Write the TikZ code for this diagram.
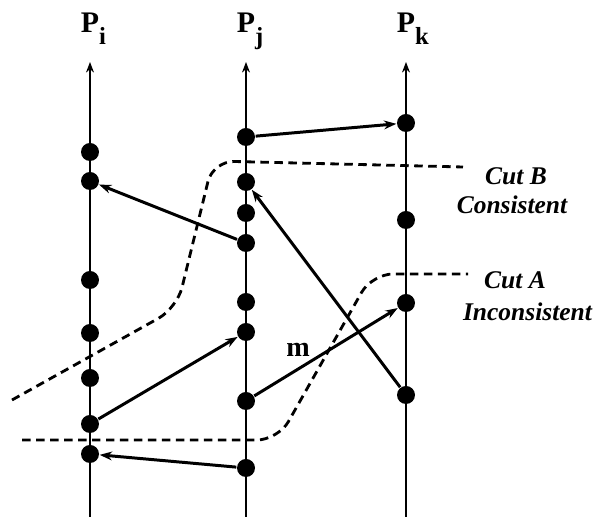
\documentclass[tikz,border=0pt]{standalone}
\usepackage{fontspec}
\setmainfont{Liberation Serif}
\usetikzlibrary{arrows.meta, positioning}
\tikzset{every picture/.append style={thick}}
\tikzset{
    ev/.style={circle, fill=black, inner sep=0pt, minimum size=0.36cm},
    msg/.style={->, >={Stealth[length=7pt,width=5pt]}, line width=1.7pt},
    proc/.style={->, >={Stealth[length=6pt,width=4.5pt]}, line width=1.6pt},
    cut/.style={line width=1.6pt, dash pattern=on 1.7mm off 1.1mm, rounded corners=12pt},
    plbl/.style={anchor=base, font=\fontsize{17}{17}\selectfont\bfseries},
    cutlbl/.style={font=\fontsize{14.5}{16}\selectfont\bfseries\itshape}
}
\newcommand{\psub}[1]{\rlap{\raisebox{-6.8pt}{\fontsize{14}{14}\selectfont #1}}}

\begin{document}
\begin{tikzpicture}
    \useasboundingbox (0,0) rectangle (11.94,10.34);

    % process lines
    \coordinate (ib) at (1.8,0);   \coordinate (it) at (1.8,9.1);
    \coordinate (jb) at (4.92,0);  \coordinate (jt) at (4.92,9.1);
    \coordinate (kb) at (8.12,0);  \coordinate (kt) at (8.12,9.1);
    \draw[proc] (ib) -- (it);
    \draw[proc] (jb) -- (jt);
    \draw[proc] (kb) -- (kt);
    \node[plbl] (pi) at (1.8,9.68) {P\psub{i}};
    \node[plbl] (pj) at (4.92,9.68) {P\psub{j}};
    \node[plbl] (pk) at (8.12,9.68) {P\psub{k}};

    % events
    \node[ev] (i1) at (1.8,7.3) {};
    \node[ev] (i2) at (1.8,6.72) {};
    \node[ev] (i3) at (1.8,4.74) {};
    \node[ev] (i4) at (1.8,3.68) {};
    \node[ev] (i5) at (1.8,2.78) {};
    \node[ev] (i6) at (1.8,1.86) {};
    \node[ev] (i7) at (1.8,1.26) {};

    \node[ev] (j1) at (4.92,7.6) {};
    \node[ev] (j2) at (4.92,6.7) {};
    \node[ev] (j3) at (4.92,6.08) {};
    \node[ev] (j4) at (4.92,5.48) {};
    \node[ev] (j5) at (4.92,4.3) {};
    \node[ev] (j6) at (4.92,3.7) {};
    \node[ev] (j7) at (4.92,2.32) {};
    \node[ev] (j8) at (4.92,0.98) {};

    \node[ev] (k1) at (8.12,7.88) {};
    \node[ev] (k2) at (8.12,5.94) {};
    \node[ev] (k3) at (8.12,4.28) {};
    \node[ev] (k4) at (8.12,2.44) {};

    % messages
    \draw[msg] (j1) -- (k1);
    \draw[msg] (j4) -- (i2);
    \draw[msg] (k4) -- (j2);
    \draw[msg] (i6) -- (j6);
    \draw[msg] (j7) -- (k3);
    \draw[msg] (j8) -- (i7);
    \node[font=\fontsize{16}{16}\selectfont\bfseries] (m) at (5.96,3.34) {m};

    % cuts
    \coordinate (bs) at (0.24,2.34);
    \coordinate (be) at (9.26,7.0);
    \draw[cut] (bs) -- (3.54,4.18) -- (4.26,7.12) -- (be);
    \coordinate (as) at (0.44,1.54);
    \coordinate (ae) at (9.36,4.86);
    \draw[cut] (as) -- (5.56,1.54) -- (7.44,4.86) -- (ae);

    \node[cutlbl] (cutb) at (10.32,6.82) {Cut B};
    \node[cutlbl] (cons) at (10.24,6.24) {Consistent};
    \node[cutlbl] (cuta) at (10.3,4.74) {Cut A};
    \node[cutlbl] (incons) at (10.55,4.1) {Inconsistent};
\end{tikzpicture}
\end{document}
